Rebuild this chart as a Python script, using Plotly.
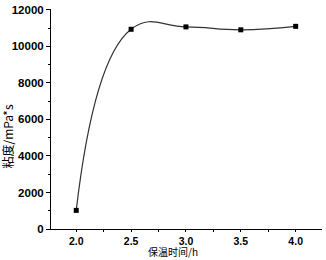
import plotly.graph_objects as go

time_h = [2.0, 2.5, 3.0, 3.5, 4.0]
viscosity = [1020, 10940, 11070, 10910, 11100]
x_ticks = [2.0, 2.5, 3.0, 3.5, 4.0]
x_tick_labels = ["2.0", "2.5", "3.0", "3.5", "4.0"]
y_ticks = [0, 2000, 4000, 6000, 8000, 10000, 12000]
y_tick_labels = ["0", "2000", "4000", "6000", "8000", "10000", "12000"]

fig = go.Figure()
fig.add_trace(go.Scatter(
    x=time_h, y=viscosity, mode="lines+markers",
    line=dict(color="#333333", width=1.2, shape="spline", smoothing=1.3),
    marker=dict(symbol="square", size=5, color="black"),
    showlegend=False,
))

tick_font = dict(family="Liberation Sans, Arial", size=11.5, color="black", weight="bold")

fig.update_layout(
    width=326, height=260,
    margin=dict(l=51, r=4, t=6, b=31),
    paper_bgcolor="white", plot_bgcolor="white",
    font=dict(family="Liberation Sans, Arial", size=12, color="black"),
    annotations=[
        dict(text="保温时间/h", xref="paper", yref="paper", x=0.45, y=-0.141,
             showarrow=False, xanchor="center", yanchor="bottom", borderpad=0,
             font=dict(family="Noto Sans CJK SC", size=10, color="black")),
        dict(text="粘度/mPa*s", xref="paper", yref="paper", x=-0.159, y=0.42,
             showarrow=False, xanchor="center", yanchor="middle", textangle=-90,
             font=dict(family="Noto Sans CJK SC", size=12, color="black")),
    ],
)
fig.update_xaxes(
    range=[1.77, 4.24], tickvals=x_ticks, ticktext=x_tick_labels,
    tickfont=dict(tick_font, size=10.5),
    showline=True, linecolor="black", linewidth=1, mirror=False,
    ticks="outside", ticklen=2, tickcolor="black", showgrid=False, zeroline=False,
    minor=dict(ticks="outside", ticklen=2, dtick=0.25, tick0=2.0, tickcolor="black", showgrid=False),
)
fig.update_yaxes(
    range=[0, 12050], tickvals=y_ticks, ticktext=y_tick_labels, tickfont=tick_font,
    showline=True, linecolor="black", linewidth=1, mirror=False,
    ticks="outside", ticklen=4, tickcolor="black", showgrid=False, zeroline=False,
    minor=dict(ticks="outside", ticklen=2, dtick=1000, tick0=0, tickcolor="black", showgrid=False),
)

fig.write_html(
    "out.html",
    config={"displayModeBar": False},
    post_script="document.body.style.margin='0';document.body.style.overflow='hidden';",
)
